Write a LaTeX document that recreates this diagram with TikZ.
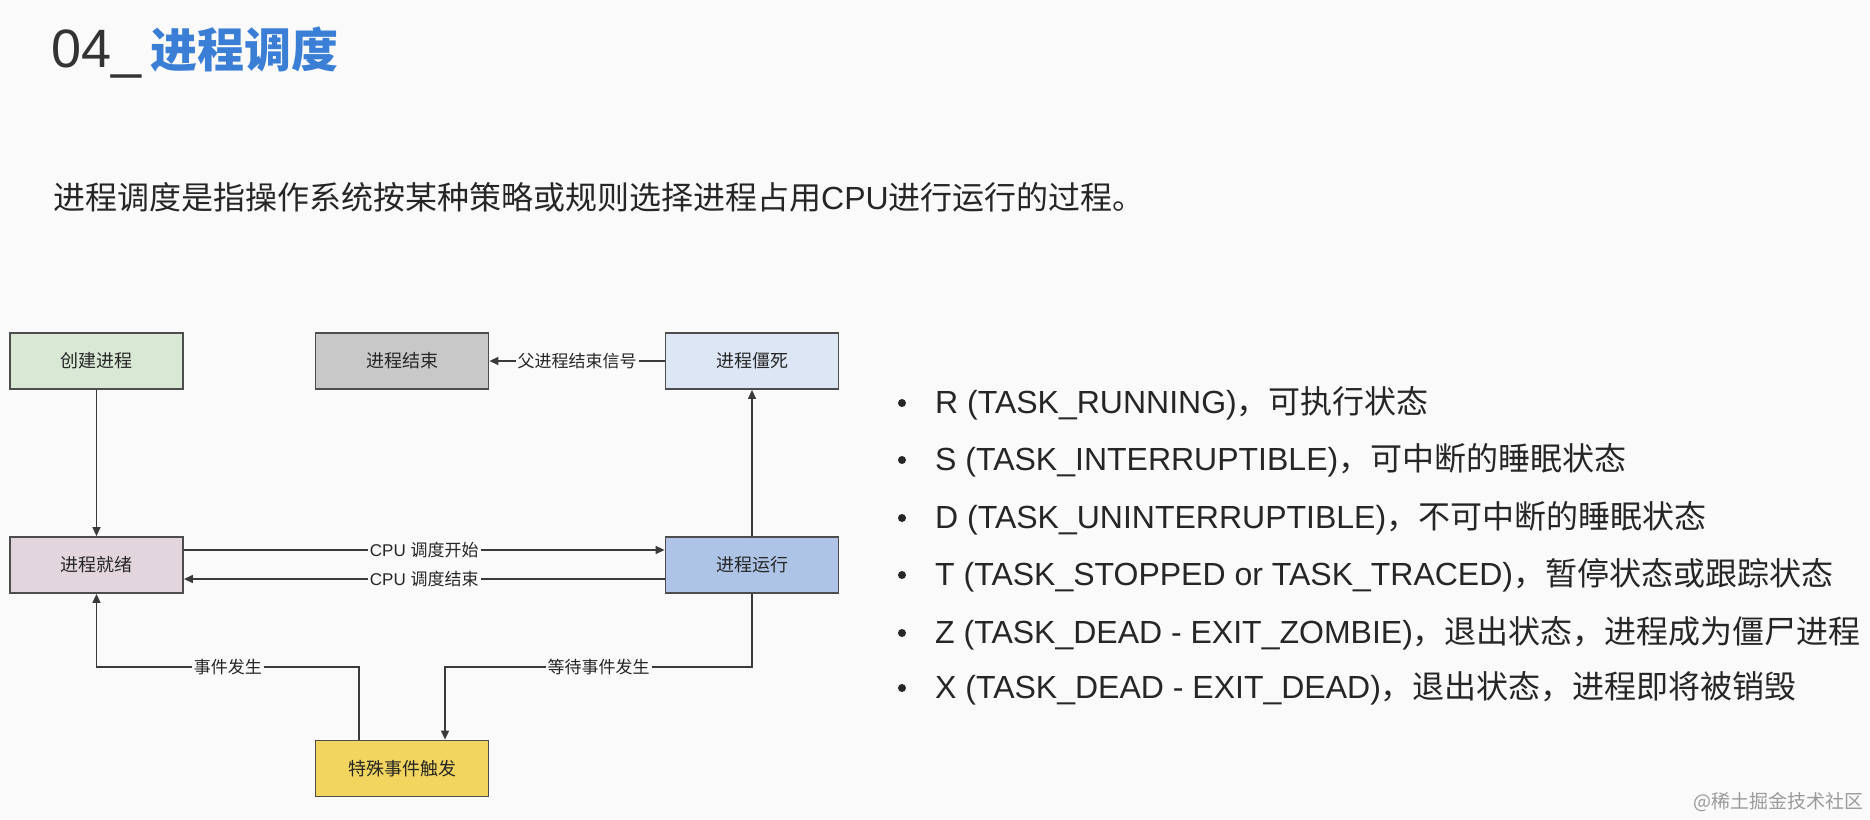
\documentclass[tikz,border=0pt]{standalone}
\usepackage{fontspec}
\setmainfont{Liberation Sans}
\newfontfamily\cjk{Noto Sans CJK SC}
\usetikzlibrary{arrows.meta}
\definecolor{bg}{HTML}{FAFAFA}
\definecolor{txt}{HTML}{262626}
\definecolor{boxline}{HTML}{4D4D4D}
\definecolor{conncol}{HTML}{3A3A3A}
\definecolor{cgreen}{HTML}{D9E8D5}
\definecolor{cgray}{HTML}{C8C8C8}
\definecolor{clblue}{HTML}{DCE6F5}
\definecolor{cpink}{HTML}{E3D5DE}
\definecolor{cblue}{HTML}{AEC4E6}
\definecolor{cyellow}{HTML}{F2D55E}
\definecolor{titleblue}{HTML}{3A7FD5}
\definecolor{titlegray}{HTML}{333333}
\definecolor{wm}{HTML}{9A9A9A}
\begin{document}
\begin{tikzpicture}[x=1pt,y=-1pt,
  box/.style={draw=boxline, line width=1.8pt, minimum width=173pt, minimum height=56pt,
    inner sep=0pt, font=\cjk\fontsize{18}{22}\selectfont, text=txt},
  conn/.style={draw=conncol, line width=1.3pt, -{Triangle[length=9pt,width=8pt]}},
  lbl/.style={fill=bg, inner sep=2pt, font=\fontsize{17}{20}\selectfont, text=txt},
  bullettext/.style={anchor=base west, inner sep=0pt, font=\fontsize{32}{38}\selectfont, text=txt},
  bulletdot/.style={circle, fill=txt, inner sep=0pt, minimum size=8pt}
]
\useasboundingbox (0,0) rectangle (1870,819);
\fill[bg] (0,0) rectangle (1870,819);

% title and intro
\node[anchor=base west, inner sep=0pt] (title) at (51,67)
  {{\fontsize{54}{60}\selectfont\color{titlegray}04\_}\hspace{9pt}{\cjk\bfseries\fontsize{47}{54}\selectfont\color{titleblue}进程调度}};
\node[anchor=base west, inner sep=0pt, text=txt] (intro) at (53,209)
  {\fontsize{32}{38}\selectfont{\cjk 进程调度是指操作系统按某种策略或规则选择进程占用}CPU{\cjk 进行运行的过程。}};

% boxes
\node[box, fill=cgreen]  (create)  at (96.5,361) {创建进程};
\node[box, fill=cgray]   (finish)  at (402,361)  {进程结束};
\node[box, fill=clblue]  (zombie)  at (752,361)  {进程僵死};
\node[box, fill=cpink]   (ready)   at (96.5,565) {进程就绪};
\node[box, fill=cblue]   (run)     at (752,565)  {进程运行};
\node[box, fill=cyellow] (special) at (402,768.5) {特殊事件触发};

\coordinate (evY) at (0,667);

% connectors
\draw[conn] (create.south) -- (ready.north);
\draw[conn] (run.north) -- (zombie.south);
\draw[conn] (zombie.west) -- node[lbl]{\cjk 父进程结束信号} (finish.east);
\draw[conn] ([yshift=15pt]ready.east) -- node[lbl]{CPU {\cjk 调度开始}} ([yshift=15pt]run.west);
\draw[conn] ([yshift=-14pt]run.west) -- node[lbl]{CPU {\cjk 调度结束}} ([yshift=-14pt]ready.east);
\draw[conn] ([xshift=-43pt]special.north) -- ([xshift=-43pt]special.north |- evY)
  -- node[lbl]{\cjk 事件发生} (ready.south |- evY) -- (ready.south);
\draw[conn] (run.south) -- (run.south |- evY)
  -- node[lbl]{\cjk 等待事件发生} ([xshift=43pt]special.north |- evY) -- ([xshift=43pt]special.north);

% bullet list
\node[bulletdot] (b1) at (902,403) {};
\node[bulletdot] (b2) at (902,460) {};
\node[bulletdot] (b3) at (902,518) {};
\node[bulletdot] (b4) at (902,575) {};
\node[bulletdot] (b5) at (902,633) {};
\node[bulletdot] (b6) at (902,688) {};
\node[bullettext] (t1) at (935,413) {R (TASK\_RUNNING){\cjk ，可执行状态}};
\node[bullettext] (t2) at (935,470) {S (TASK\_INTERRUPTIBLE){\cjk ，可中断的睡眠状态}};
\node[bullettext] (t3) at (935,528) {D (TASK\_UNINTERRUPTIBLE){\cjk ，不可中断的睡眠状态}};
\node[bullettext] (t4) at (935,585) {T (TASK\_STOPPED or TASK\_TRACED){\cjk ，暂停状态或跟踪状态}};
\node[bullettext] (t5) at (935,643) {Z (TASK\_DEAD - EXIT\_ZOMBIE){\cjk ，退出状态，进程成为僵尸进程}};
\node[bullettext] (t6) at (935,698) {X (TASK\_DEAD - EXIT\_DEAD){\cjk ，退出状态，进程即将被销毁}};

% watermark
\node[anchor=base east, inner sep=0pt, text=wm, font=\cjk\fontsize{19}{22}\selectfont] (mark) at (1864,808) {@稀土掘金技术社区};
\end{tikzpicture}
\end{document}
